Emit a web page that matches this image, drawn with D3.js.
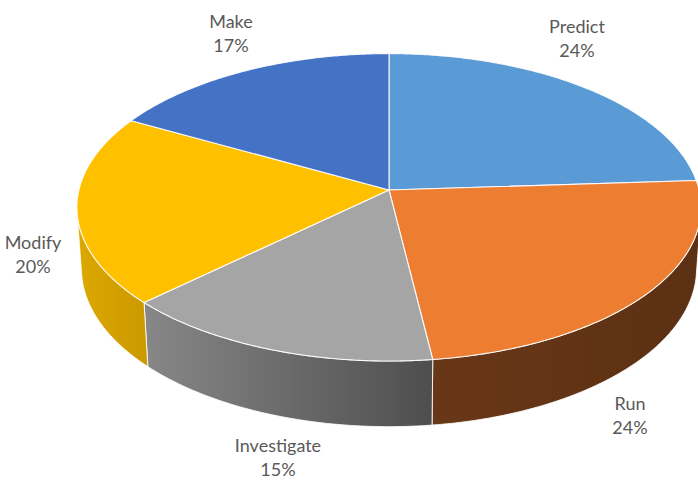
<!DOCTYPE html>
<html>
<head>
<meta charset="utf-8">
<script src="https://cdn.jsdelivr.net/npm/d3@7"></script>
<style>
  html, body { margin: 0; padding: 0; background: #ffffff; }
  svg { display: block; }
  .lbl { font-family: Lato, "Open Sans", sans-serif; font-size: 18px; fill: #595959; }
</style>
</head>
<body>
<svg id="chart" width="698" height="482"></svg>
<script>
// Shares of each activity (percent)
const categories = ["Predict", "Run", "Investigate", "Modify", "Make"];
const values = [24, 24, 15, 20, 17];

// Top-face colours and the light/dark ends of each slice's side wall
const topColors = ["#5B9BD5", "#ED7D31", "#A5A5A5", "#FFC000", "#4472C4"];
const wallLight = ["#3D6F9E", "#683717", "#878787", "#DCA800", "#2F518C"];
const wallDark  = ["#2E5782", "#5C3013", "#4E4E4E", "#CC9900", "#243F6E"];

// Where each two-line data label is centred
const labelSpots = [[577, 39], [630, 416], [278, 458], [33, 255], [231, 34]];

const W = 698, H = 482;
const svg = d3.select("#chart");

// Simple perspective camera looking down on a unit-radius disc of thickness h
const cam = { cx: 389, cy: 190, F: 2400, D: 7.74, tilt: 29.3 * Math.PI / 180, h: 0.228 };
const sinT = Math.sin(cam.tilt), cosT = Math.cos(cam.tilt);

// theta: clockwise from the back of the disc (12 o'clock), r: radius, y: height
function project(theta, r, y) {
  const x = r * Math.sin(theta), z = r * Math.cos(theta);
  const depth = cam.D + z * cosT - y * sinT;
  const up = y * cosT + z * sinT;
  return [cam.cx + cam.F * x / depth, cam.cy - cam.F * up / depth];
}

function arcPoints(a, b, y) {
  const n = Math.max(2, Math.ceil(Math.abs(b - a) / (Math.PI / 360)));
  return d3.range(n + 1).map(i => project(a + (b - a) * i / n, 1, y));
}

const pie = d3.pie().sort(null).startAngle(0).endAngle(2 * Math.PI);
const arcs = pie(values);

const line = d3.line().curve(d3.curveLinearClosed);
const defs = svg.append("defs");

// The outer wall faces the camera only over this range of angles
const visMin = Math.acos(-1 / (cam.D * cosT));
const visMax = 2 * Math.PI - visMin;

// Side walls
const wallG = svg.append("g");
arcs.forEach((d, i) => {
  const a = Math.max(d.startAngle, visMin), b = Math.min(d.endAngle, visMax);
  if (b <= a) return;
  const topPts = arcPoints(a, b, 0);
  const botPts = arcPoints(b, a, -cam.h);
  const pts = topPts.concat(botPts);
  const xs = pts.map(p => p[0]);
  const gid = "wall" + i;
  const g = defs.append("linearGradient").attr("id", gid)
    .attr("gradientUnits", "userSpaceOnUse")
    .attr("x1", d3.min(xs)).attr("x2", d3.max(xs)).attr("y1", 0).attr("y2", 0);
  g.append("stop").attr("offset", 0).attr("stop-color", wallLight[i]);
  g.append("stop").attr("offset", 1).attr("stop-color", wallDark[i]);
  wallG.append("path")
    .attr("d", line(pts))
    .attr("fill", `url(#${gid})`)
    .attr("stroke", "#ffffff").attr("stroke-width", 1).attr("stroke-opacity", 0.85)
    .attr("stroke-linejoin", "round");
});

// Top faces
const topG = svg.append("g");
arcs.forEach((d, i) => {
  const pts = [project(0, 0, 0)].concat(arcPoints(d.startAngle, d.endAngle, 0));
  topG.append("path")
    .attr("d", line(pts))
    .attr("fill", topColors[i])
    .attr("stroke", "#ffffff").attr("stroke-width", 1.1).attr("stroke-opacity", 0.9)
    .attr("stroke-linejoin", "round");
});

// Data labels: category name over its percentage
const lblG = svg.append("g");
arcs.forEach((d, i) => {
  const [x, y] = labelSpots[i];
  const t = lblG.append("text").attr("class", "lbl").attr("text-anchor", "middle");
  t.append("tspan").attr("x", x).attr("y", y - 12).attr("dy", "0.35em").text(categories[i]);
  t.append("tspan").attr("x", x).attr("y", y + 12).attr("dy", "0.35em").text(d3.format(".0%")(values[i] / 100));
});
</script>
</body>
</html>
